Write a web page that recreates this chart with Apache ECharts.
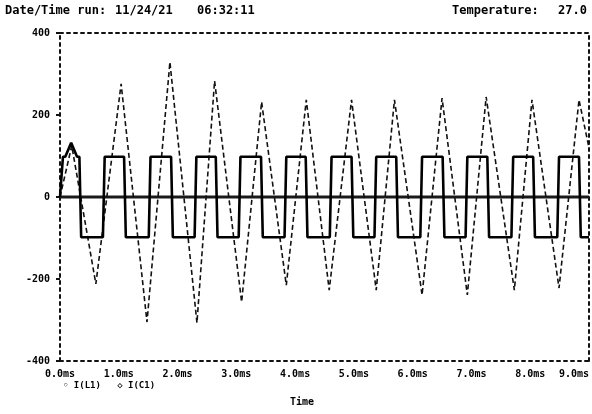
<!DOCTYPE html>
<html>
<head>
<meta charset="utf-8">
<script src="https://cdn.jsdelivr.net/npm/echarts@6/dist/echarts.min.js"></script>
<style>
html,body{margin:0;padding:0;background:#fff;}
#c{width:592px;height:414px;}
</style>
</head>
<body>
<div id="c"></div>
<script>
// ---- data ----
const xTickLabels = ['0.0ms','1.0ms','2.0ms','3.0ms','4.0ms','5.0ms','6.0ms','7.0ms','8.0ms','9.0ms'];
const yTickLabels = {'400':'400','200':'200','0':'0','-200':'-200','-400':'-400'};

// square-wave trace (time in ms, value)
const sqT = [0,0.05,0.09,0.19,0.29,0.33,0.36,0.73,0.76,1.09,1.12,1.51,1.54,1.89,1.92,2.29,2.32,2.65,2.68,3.04,3.07,3.42,3.45,3.82,3.85,4.18,4.21,4.59,4.62,4.96,4.99,5.35,5.38,5.72,5.75,6.13,6.16,6.51,6.54,6.90,6.93,7.27,7.30,7.68,7.71,8.05,8.08,8.46,8.49,8.83,8.86,9.0];
const sqV = [0,98,98,132,98,98,-98,-98,98,98,-98,-98,98,98,-98,-98,98,98,-98,-98,98,98,-98,-98,98,98,-98,-98,98,98,-98,-98,98,98,-98,-98,98,98,-98,-98,98,98,-98,-98,98,98,-98,-98,98,98,-98,-98];

// dashed oscillation trace
const wvT = [0,0.2,0.61,1.04,1.48,1.87,2.33,2.63,3.09,3.43,3.85,4.19,4.58,4.96,5.38,5.69,6.16,6.50,6.93,7.25,7.73,8.03,8.49,8.83,9.0];
const wvV = [0,125,-212,276,-305,329,-307,283,-256,232,-215,237,-227,237,-227,237,-239,241,-239,244,-227,237,-222,237,120];

// zero reference trace
const zeroT = [0,9];
const zeroV = [0,0];

const zip = (a,b)=>a.map((t,i)=>[t,b[i]]);

const chart = echarts.init(document.getElementById('c'), null, {renderer:'canvas'});
const mono = 'DejaVu Sans Mono';
const frameLine = {show:true, onZero:false, lineStyle:{color:'#111', width:2, type:[3,4]}};
const txt = (x,y,s,font)=>({type:'text', left:x, top:y, style:{text:s, fill:'#000', font:font||'bold 12px "DejaVu Sans Mono"'}});

chart.setOption({
  animation:false,
  backgroundColor:'#fff',
  grid:{left:60, top:33, width:530, height:328, containLabel:false},
  xAxis:[
    {type:'value', min:0, max:9, interval:1, position:'bottom',
     axisLine:frameLine, axisTick:{show:false}, splitLine:{show:false},
     axisLabel:{formatter:(v)=>xTickLabels[Math.round(v)], margin:8, color:'#000', fontFamily:mono, fontSize:10, fontWeight:'bold', alignMaxLabel:'right'}},
    {type:'value', min:0, max:9, interval:1, position:'top',
     axisLine:frameLine, axisTick:{show:false}, splitLine:{show:false}, axisLabel:{show:false}}
  ],
  yAxis:[
    {type:'value', min:-400, max:400, interval:200, position:'left',
     axisLine:frameLine, axisTick:{show:true, length:4, lineStyle:{color:'#111', width:2}}, splitLine:{show:false},
     axisLabel:{formatter:(v)=>yTickLabels[String(v)], margin:10, color:'#000', fontFamily:mono, fontSize:10, fontWeight:'bold'}},
    {type:'value', min:-400, max:400, interval:200, position:'right',
     axisLine:frameLine, axisTick:{show:false}, splitLine:{show:false}, axisLabel:{show:false}}
  ],
  series:[
    {type:'line', data:zip(zeroT,zeroV), symbol:'none', lineStyle:{color:'#1a1a1a', width:3}, z:2},
    {type:'line', data:zip(wvT,wvV), symbol:'none', lineStyle:{color:'#111', width:1.6, type:[5,3]}, z:3},
    {type:'line', data:zip(sqT,sqV), symbol:'none', lineStyle:{color:'#000', width:2.6}, z:4}
  ],
  graphic:[
    txt(5,5,'Date/Time run:'),
    txt(115,5,'11/24/21'),
    txt(197,5,'06:32:11'),
    txt(452,5,'Temperature:'),
    txt(558,5,'27.0'),
    txt(63,381,'\u25E6 I(L1)   \u25C7 I(C1)', 'bold 9px "DejaVu Sans Mono"'),
    txt(290,397,'Time', 'bold 10px "DejaVu Sans Mono"')
  ]
});
</script>
</body>
</html>
